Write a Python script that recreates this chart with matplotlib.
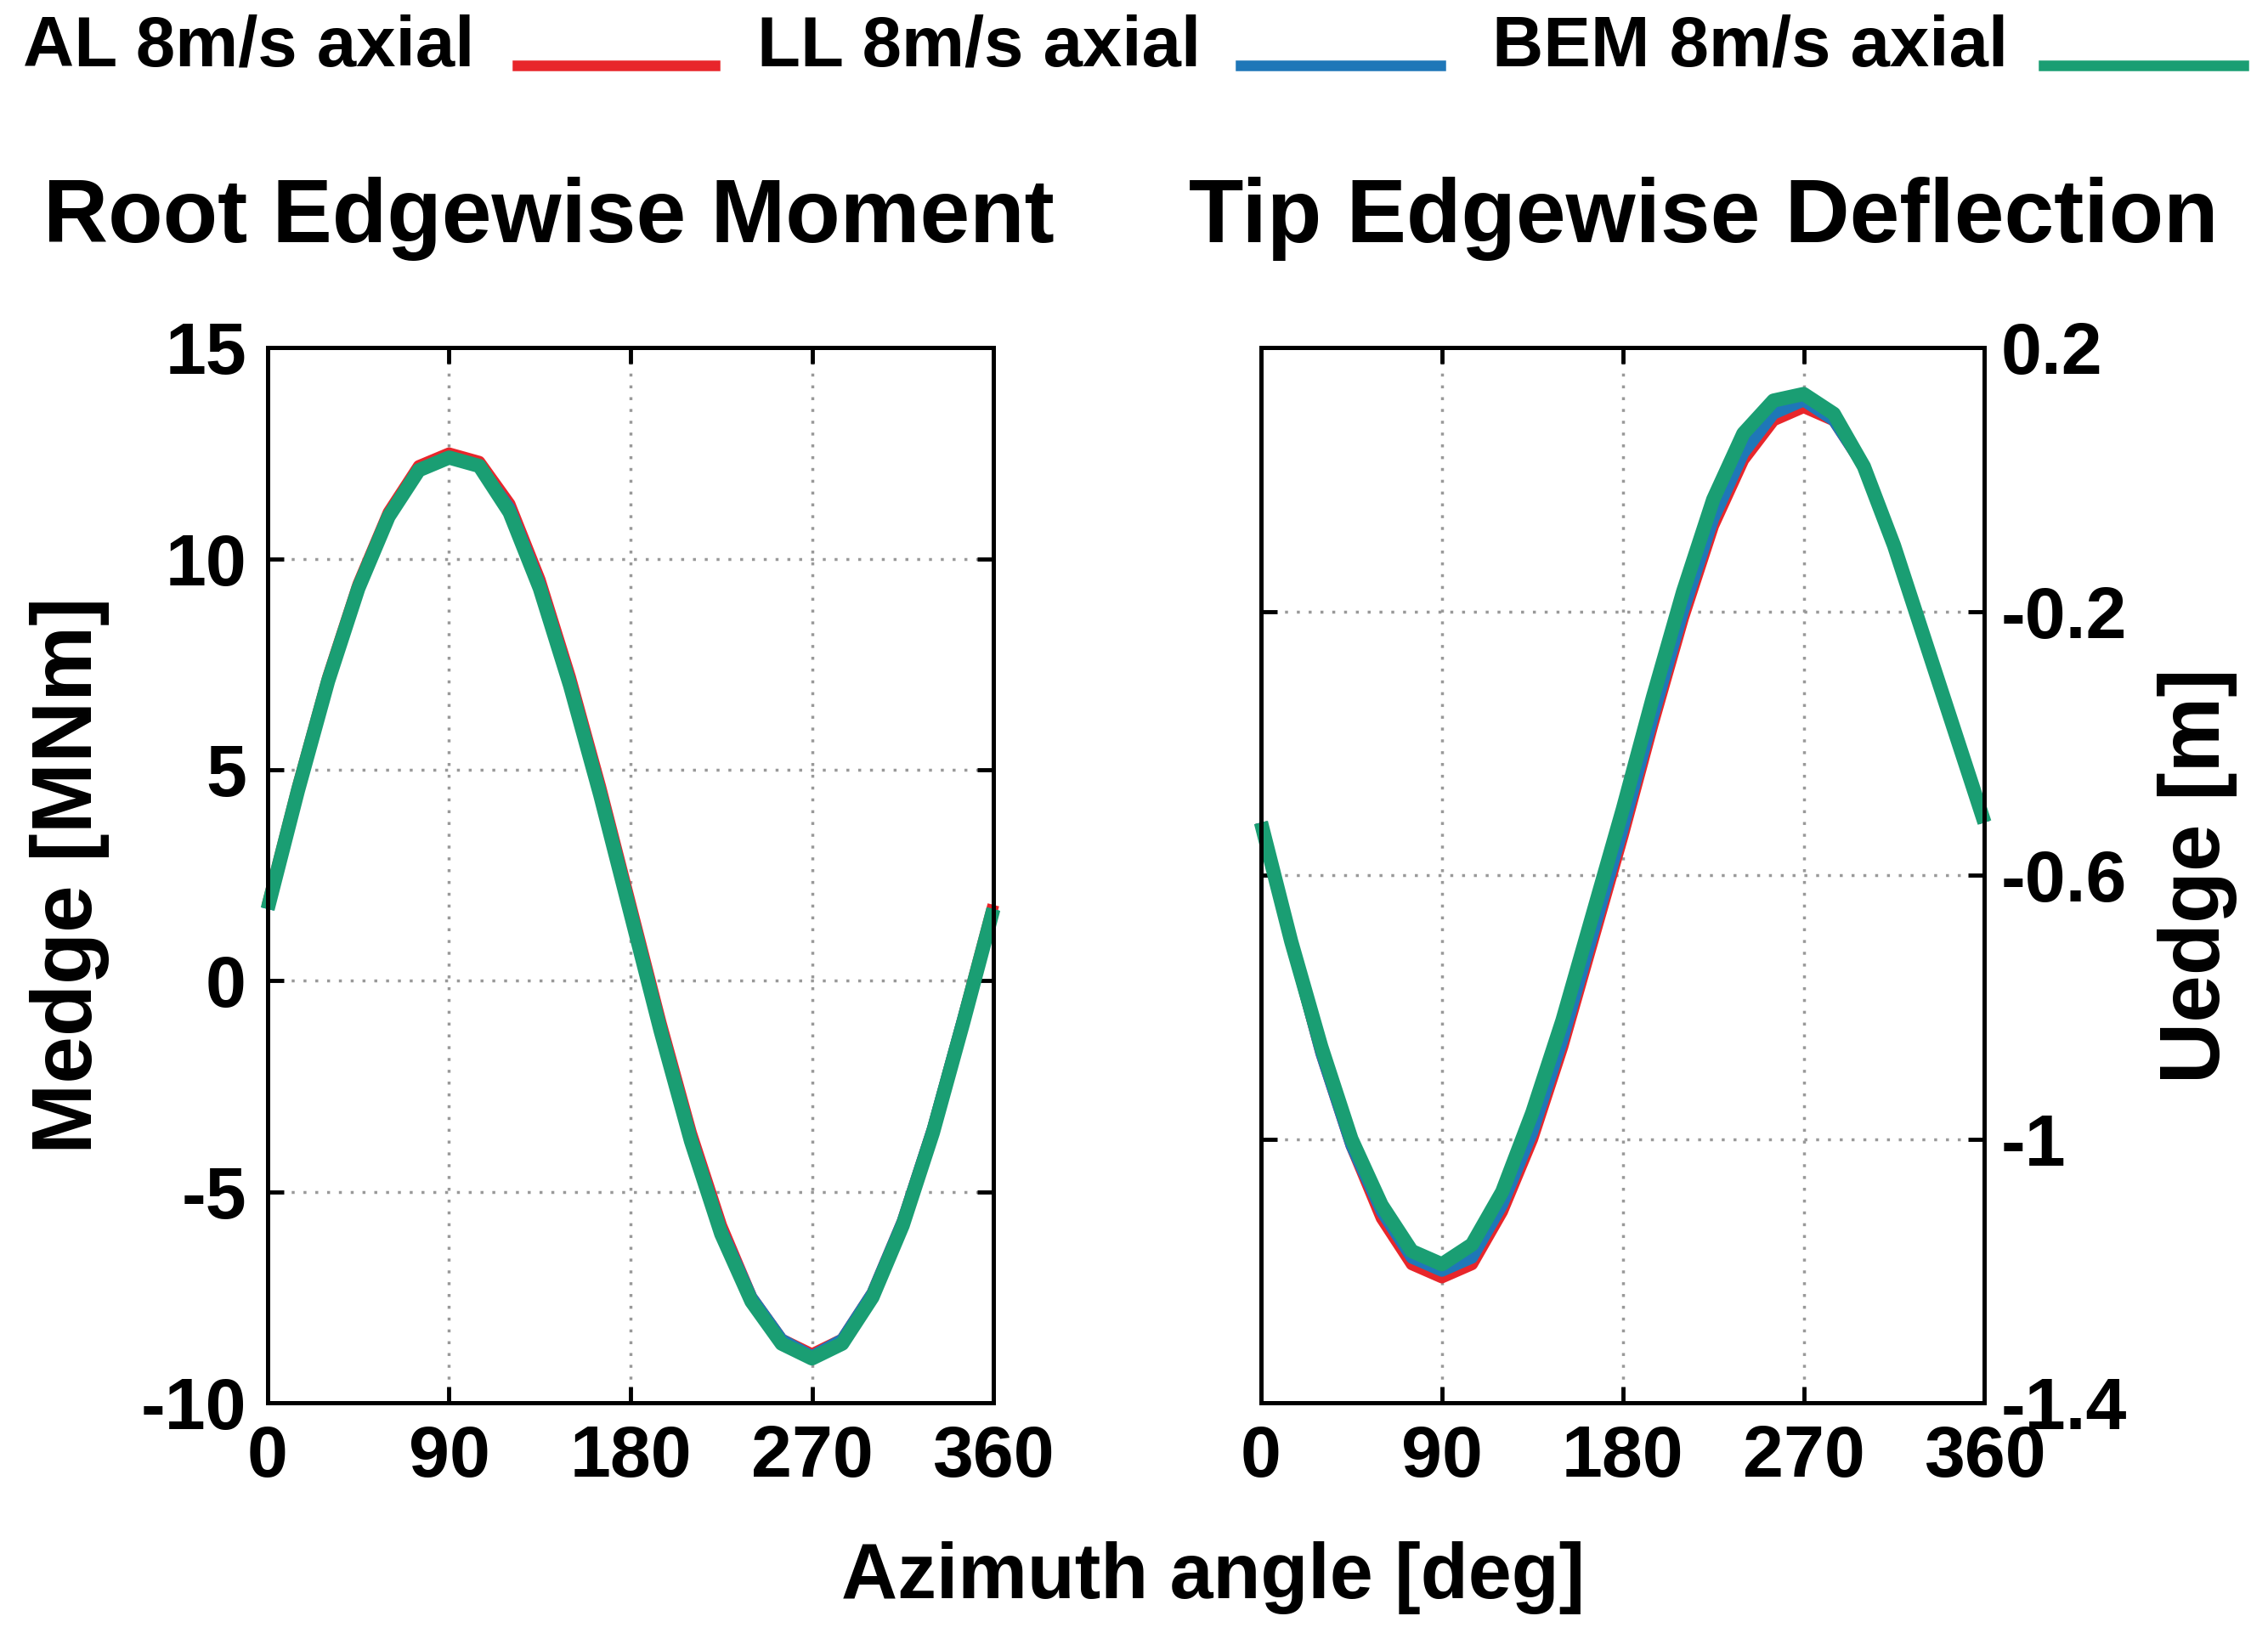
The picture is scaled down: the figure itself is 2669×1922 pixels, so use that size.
import matplotlib
matplotlib.use("Agg")
import matplotlib.pyplot as plt
from matplotlib.lines import Line2D

plt.rcParams['font.family'] = ['Liberation Sans', 'DejaVu Sans']
plt.rcParams['font.weight'] = 'bold'

azimuth = [0,15,30,45,60,75,90,105,120,135,150,165,180,195,210,225,240,255,270,285,300,315,330,345,360]
m_bem = [1.7,4.5,7.1,9.3,11.0,12.1,12.4,12.2,11.1,9.3,7.0,4.4,1.6,-1.2,-3.8,-6.0,-7.6,-8.6,-8.95,-8.6,-7.5,-5.8,-3.6,-1.0,1.7]
m_al  = [1.8,4.6,7.2,9.4,11.1,12.2,12.5,12.3,11.3,9.5,7.2,4.6,1.8,-1.0,-3.6,-5.8,-7.5,-8.5,-8.85,-8.5,-7.4,-5.7,-3.5,-0.9,1.8]
m_ll  = [1.7,4.5,7.1,9.3,11.0,12.1,12.4,12.2,11.2,9.4,7.1,4.5,1.7,-1.1,-3.7,-5.9,-7.5,-8.5,-8.9,-8.5,-7.4,-5.7,-3.5,-0.9,1.7]
u_bem = [-0.52,-0.70,-0.86,-1.00,-1.10,-1.17,-1.19,-1.16,-1.08,-0.96,-0.82,-0.66,-0.50,-0.33,-0.17,-0.03,0.07,0.12,0.13,0.10,0.02,-0.10,-0.24,-0.38,-0.52]
u_al  = [-0.52,-0.70,-0.87,-1.01,-1.12,-1.19,-1.21,-1.19,-1.11,-1.00,-0.86,-0.70,-0.54,-0.37,-0.21,-0.07,0.03,0.09,0.11,0.09,0.02,-0.10,-0.24,-0.38,-0.52]
u_ll  = [-0.52,-0.70,-0.87,-1.01,-1.11,-1.18,-1.20,-1.18,-1.10,-0.99,-0.85,-0.69,-0.53,-0.36,-0.20,-0.06,0.04,0.10,0.12,0.09,0.02,-0.10,-0.24,-0.38,-0.52]

RED, BLUE, GREEN = '#e8262b', '#1f77b8', '#1a9e73'
fig = plt.figure(figsize=(26.69, 19.22), dpi=100)
ax1 = fig.add_axes([0.118, 0.141, 0.320, 0.646])
ax2 = fig.add_axes([0.556, 0.141, 0.319, 0.646])

for ax, series, ylim, yt in [(ax1, (m_al, m_ll, m_bem), (-10, 15), [-10,-5,0,5,10,15]),
                             (ax2, (u_al, u_ll, u_bem), (-1.4, 0.2), [-1.4,-1.0,-0.6,-0.2,0.2])]:
    ax.plot(azimuth, series[0], color=RED, lw=10, solid_joinstyle='round', solid_capstyle='butt', clip_on=False)
    ax.plot(azimuth, series[1], color=BLUE, lw=10, solid_joinstyle='round', solid_capstyle='butt', clip_on=False)
    ax.plot(azimuth, series[2], color=GREEN, lw=12, solid_joinstyle='round', solid_capstyle='butt', clip_on=False)
    ax.set_xlim(0, 360); ax.set_ylim(*ylim)
    ax.set_xticks([0, 90, 180, 270, 360]); ax.set_yticks(yt)
    ax.grid(True, color='#999999', linestyle=(0, (1, 3)), lw=2.5)
    ax.tick_params(direction='in', length=14, width=3.5, labelsize=62, top=True, right=True, pad=18)
    for s in ax.spines.values():
        s.set_linewidth(3.6)

ax1.set_yticklabels(['-10', '-5', '0', '5', '10', '15'])
ax2.yaxis.tick_right()
ax2.tick_params(axis='y', left=True, right=True, pad=14)
ax2.set_yticklabels(['-1.4', '-1', '-0.6', '-0.2', '0.2'])

fig.text(0.242, 0.866, 'Root Edgewise Moment', ha='center', va='center', fontsize=76, fontweight='bold')
fig.text(0.751, 0.866, 'Tip Edgewise Deflection', ha='center', va='center', fontsize=76, fontweight='bold')
ax1.set_ylabel('Medge [MNm]', fontsize=72, fontweight='bold', labelpad=26)
ax2.yaxis.set_label_position('right')
ax2.set_ylabel('Uedge [m]', fontsize=72, fontweight='bold', labelpad=26)
fig.text(0.535, 0.034, 'Azimuth angle [deg]', ha='center', va='center', fontsize=66, fontweight='bold')

legs = [('AL 8m/s axial', 0.010, 0.228, 0.315, RED),
        ('LL 8m/s axial', 0.334, 0.547, 0.635, BLUE),
        ('BEM 8m/s axial', 0.658, 0.901, 0.989, GREEN)]
for txt, tx, l0, l1, c in legs:
    fig.text(tx, 0.971, txt, ha='left', va='center', fontsize=60, fontweight='bold')
    fig.add_artist(Line2D([l0, l1], [0.960, 0.960], color=c, lw=9, transform=fig.transFigure))

fig.savefig('out.png', dpi=100)
